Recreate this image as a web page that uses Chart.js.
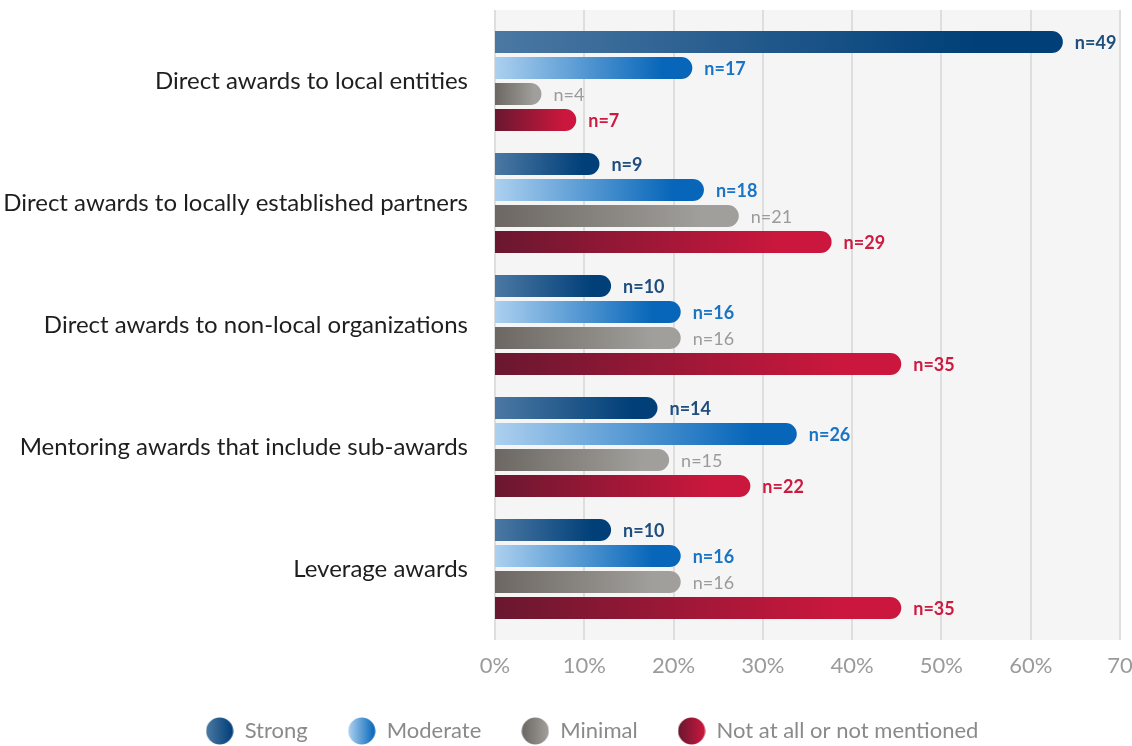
<!DOCTYPE html>
<html>
<head>
<meta charset="utf-8">
<script src="https://cdn.jsdelivr.net/npm/chart.js@4.4.1/dist/chart.umd.min.js"></script>
<style>
  html, body { margin: 0; padding: 0; background: #fff; }
  #wrap { width: 1132px; height: 746px; position: relative; }
</style>
</head>
<body>
<div id="wrap"><canvas id="awardsChart"></canvas></div>
<script>
const categories = [
  'Direct awards to local entities',
  'Direct awards to locally established partners',
  'Direct awards to non-local organizations',
  'Mentoring awards that include sub-awards',
  'Leverage awards'
];
const seriesNames = ['Strong', 'Moderate', 'Minimal', 'Not at all or not mentioned'];

// share of responses (%) and the n shown next to each bar
const strongPct   = [63.6, 11.7, 13.0, 18.2, 13.0];
const strongN     = [49, 9, 10, 14, 10];
const moderatePct = [22.1, 23.4, 20.8, 33.8, 20.8];
const moderateN   = [17, 18, 16, 26, 16];
const minimalPct  = [5.2, 27.3, 20.8, 19.5, 20.8];
const minimalN    = [4, 21, 16, 15, 16];
const notPct      = [9.1, 37.7, 45.5, 28.6, 45.5];
const notN        = [7, 29, 35, 22, 35];

const xTickLabels = ['0%', '10%', '20%', '30%', '40%', '50%', '60%', '70'];

const FONT = 'Lato, "Open Sans", sans-serif';

const palette = [
  { from: '#4b78a3', to: '#003f78', text: '#1f4d7e', weight: 'bold' },   // Strong
  { from: '#acd0ef', to: '#0766b9', text: '#1a74c6', weight: 'bold' },   // Moderate
  { from: '#6c6763', to: '#a19f9b', text: '#9b9b9b', weight: 'normal' }, // Minimal
  { from: '#6a1730', to: '#cb173d', text: '#cc1a40', weight: 'bold' }    // Not at all
];

const allPct = [strongPct, moderatePct, minimalPct, notPct];
const allN   = [strongN, moderateN, minimalN, notN];

function barFill(i){
  return function(c){
    const chart = c.chart;
    const col = palette[i];
    if(!chart.chartArea || c.type !== 'data') return col.to;
    const x = chart.scales.x;
    const x0 = x.getPixelForValue(0);
    const x1 = x.getPixelForValue(c.raw);
    const g = chart.ctx.createLinearGradient(x0, 0, x1, 0);
    g.addColorStop(0, col.from);
    g.addColorStop(0.85, col.to);
    g.addColorStop(1, col.to);
    return g;
  };
}

function legendDot(i){
  const cv = document.createElement('canvas');
  cv.width = 28; cv.height = 28;
  const c = cv.getContext('2d');
  const g = c.createLinearGradient(1, 0, 27, 0);
  g.addColorStop(0, palette[i].from);
  g.addColorStop(1, palette[i].to);
  c.fillStyle = g;
  c.beginPath();
  c.ellipse(14, 14, 13.5, 13.5, 0, 0, Math.PI * 2);
  c.fill();
  return cv;
}
const legendDots = palette.map((p, i) => legendDot(i));

// light panel + vertical grid behind the bars
const plotFrame = {
  id: 'plotFrame',
  beforeDraw(chart){
    const { ctx, chartArea: a, scales: { x } } = chart;
    ctx.save();
    ctx.fillStyle = '#f5f5f5';
    ctx.fillRect(a.left, a.top - 10, a.right - a.left, a.bottom - a.top + 20);
    ctx.strokeStyle = '#dedede';
    ctx.lineWidth = 2;
    x.ticks.forEach((t, i) => {
      const px = Math.round(x.getPixelForTick(i));
      ctx.beginPath();
      ctx.moveTo(px, a.top - 10);
      ctx.lineTo(px, a.bottom + 10);
      ctx.stroke();
    });
    ctx.restore();
  }
};

// legend sits a little right of the page centre, under the bars
const legendShift = {
  id: 'legendShift',
  afterLayout(chart){
    if(chart.legend){
      chart.legend.left += 26;
      chart.legend.right += 26;
    }
  }
};

// "n=.." after each bar
const nLabels = {
  id: 'nLabels',
  afterDatasetsDraw(chart){
    const ctx = chart.ctx;
    ctx.save();
    ctx.textAlign = 'left';
    ctx.textBaseline = 'middle';
    chart.data.datasets.forEach((ds, d) => {
      const meta = chart.getDatasetMeta(d);
      ctx.fillStyle = palette[d].text;
      ctx.font = palette[d].weight + ' 18px ' + FONT;
      meta.data.forEach((bar, i) => {
        ctx.fillText('n=' + allN[d][i], bar.x + 12, bar.y + 1);
      });
    });
    ctx.restore();
  }
};

new Chart(document.getElementById('awardsChart'), {
  type: 'bar',
  data: {
    labels: categories,
    datasets: seriesNames.map((name, i) => ({
      label: name,
      data: allPct[i],
      backgroundColor: barFill(i),
      borderWidth: 0,
      borderRadius: 11,
      borderSkipped: 'start',
      categoryPercentage: 0.852,
      barPercentage: 0.846
    }))
  },
  options: {
    indexAxis: 'y',
    responsive: true,
    maintainAspectRatio: false,
    animation: false,
    layout: { padding: { left: 0, top: 20, right: 0, bottom: 0 } },
    scales: {
      x: {
        min: 0, max: 70,
        grid: { display: false, drawTicks: false },
        border: { display: false },
        ticks: {
          stepSize: 10,
          padding: 23,
          color: '#9b9b9b',
          font: { family: FONT, size: 22 },
          callback: (v, i) => xTickLabels[i]
        },
        afterFit(s){
          s.height = 50;
          s.paddingLeft = 0;
          s.paddingRight = 12;
        }
      },
      y: {
        grid: { display: false, drawTicks: false },
        border: { display: false },
        ticks: {
          padding: 27,
          color: '#1e1e1e',
          font: { family: FONT, size: 24 }
        },
        afterFit(s){
          s.width = 495;
          s.paddingTop = 0;
          s.paddingBottom = 0;
        }
      }
    },
    plugins: {
      tooltip: { enabled: false },
      legend: {
        position: 'bottom',
        maxHeight: 66,
        labels: {
          usePointStyle: true,
          pointStyleWidth: 28,
          padding: 40,
          color: '#8a8a8a',
          font: { family: FONT, size: 22 },
          generateLabels(chart){
            return chart.data.datasets.map((ds, i) => ({
              text: ds.label,
              fillStyle: palette[i].to,
              strokeStyle: palette[i].to,
              lineWidth: 0,
              hidden: false,
              datasetIndex: i,
              pointStyle: legendDots[i],
              fontColor: '#8a8a8a'
            }));
          }
        }
      }
    }
  },
  plugins: [plotFrame, legendShift, nLabels]
});
</script>
</body>
</html>
